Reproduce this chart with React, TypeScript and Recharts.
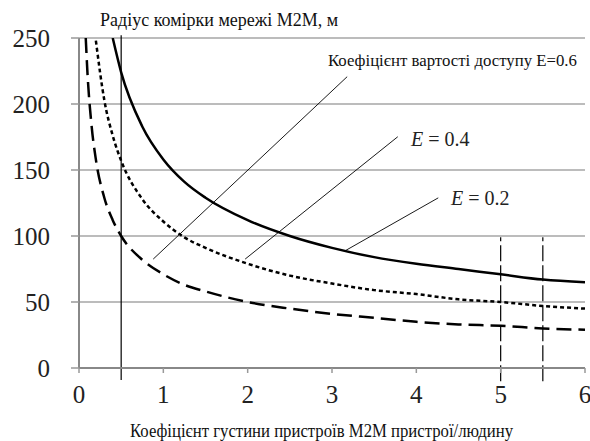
import React from "react";
import {
  LineChart,
  Line,
  XAxis,
  YAxis,
  CartesianGrid,
  ReferenceLine,
} from "recharts";

// Device density (devices per person)
const xValues = [0.08, 0.1, 0.15, 0.2, 0.3, 0.4, 0.5, 0.75, 1, 1.25, 1.5, 2, 2.5, 3, 3.5, 4, 4.5, 5, 5.5, 6];
// Cell radius, m (solid curve)
const solidSeries: (number | null)[] = [null, null, null, null, null, 250, 224, 183, 158, 141, 129, 112, 100, 91, 84, 79, 75, 71, 67, 65];
// dotted curve
const dottedSeries: (number | null)[] = [null, null, null, 248, 203, 176, 157, 128, 111, 99, 91, 79, 70, 64, 59, 56, 52, 50, 47, 45];
// dashed curve
const dashedSeries: (number | null)[] = [250, 224, 183, 158, 129, 112, 100, 82, 71, 63, 58, 50, 45, 41, 38, 35, 33, 32, 30, 29];

const xTicks = [0, 1, 2, 3, 4, 5, 6];
const yTicks = [0, 50, 100, 150, 200, 250];

const yTitle = "Радіус комірки мережі M2M, м";
const xTitle = "Коефіцієнт густини пристроїв M2M пристрої/людину";
const label06 = "Коефіцієнт вартості доступу E=0.6";
const label04 = " = 0.4";
const label02 = " = 0.2";

const data = xValues.map((x, i) => ({
  x,
  solid: solidSeries[i],
  dotted: dottedSeries[i],
  dashed: dashedSeries[i],
}));

const FONT = "Liberation Serif";

export default function App() {
  return (
    <div style={{ position: "absolute", left: 0, top: 0, width: 590, height: 441, background: "#fff", fontFamily: FONT }}>
      <LineChart
        width={590}
        height={441}
        data={data}
        margin={{ top: 38, right: 5, bottom: 43, left: 0 }}
        style={{ fontFamily: FONT }}
      >
        <CartesianGrid horizontal={true} vertical={false} stroke="#a6a6a6" strokeWidth={1.3} />
        <XAxis
          type="number"
          dataKey="x"
          domain={[0, 6]}
          ticks={xTicks}
          interval={0}
          height={30}
          tickSize={5}
          tickMargin={12}
          stroke="#888"
          strokeWidth={2}
          tick={{ fontSize: 25, fill: "#222", fontFamily: FONT }}
          tickLine={{ stroke: "#999", strokeWidth: 1.5 }}
        />
        <YAxis
          type="number"
          domain={[0, 250]}
          ticks={yTicks}
          allowDataOverflow
          width={79}
          tickSize={8}
          tickMargin={21}
          interval={0}
          stroke="#888"
          strokeWidth={2}
          tick={{ fontSize: 25, fill: "#222", fontFamily: FONT }}
          tickLine={{ stroke: "#999", strokeWidth: 1.5 }}
        />
        <ReferenceLine
          segment={[{ x: 0.5, y: -9 }, { x: 0.5, y: 252 }]}
          stroke="#000"
          strokeWidth={1.2}
          ifOverflow="visible"
        />
        <ReferenceLine
          segment={[{ x: 5, y: -10 }, { x: 5, y: 99 }]}
          stroke="#000"
          strokeWidth={1.2}
          strokeDasharray="16 4"
          ifOverflow="visible"
        />
        <ReferenceLine
          segment={[{ x: 5.5, y: -10 }, { x: 5.5, y: 99 }]}
          stroke="#000"
          strokeWidth={1.2}
          strokeDasharray="16 4"
          ifOverflow="visible"
        />
        <ReferenceLine
          segment={[{ x: 0.88, y: 82.5 }, { x: 3.18, y: 220.7 }]}
          stroke="#000"
          strokeWidth={0.9}
          ifOverflow="visible"
        />
        <ReferenceLine
          segment={[{ x: 1.97, y: 82.5 }, { x: 3.78, y: 175.2 }]}
          stroke="#000"
          strokeWidth={0.9}
          ifOverflow="visible"
        />
        <ReferenceLine
          segment={[{ x: 3.15, y: 88.6 }, { x: 4.26, y: 128.9 }]}
          stroke="#000"
          strokeWidth={0.9}
          ifOverflow="visible"
        />
        <Line
          type="monotone"
          dataKey="solid"
          stroke="#000"
          strokeWidth={2.5}
          dot={false}
          isAnimationActive={false}
        />
        <Line
          type="monotone"
          dataKey="dotted"
          stroke="#000"
          strokeWidth={2.5}
          strokeDasharray="4 3"
          dot={false}
          isAnimationActive={false}
        />
        <Line
          type="monotone"
          dataKey="dashed"
          stroke="#000"
          strokeWidth={2.5}
          strokeDasharray="15 7"
          dot={false}
          isAnimationActive={false}
        />
      </LineChart>
      <svg
        width={590}
        height={441}
        style={{ position: "absolute", left: 0, top: 0, pointerEvents: "none" }}
      >
        <text x={100} y={26} fontFamily={FONT} fontSize={18} fill="#111">{yTitle}</text>
        <text x={130} y={437} fontFamily={FONT} fontSize={18} fill="#111" textLength={383} lengthAdjust="spacingAndGlyphs">{xTitle}</text>
        <text x={328} y={66} fontFamily={FONT} fontSize={16.8} fill="#111">{label06}</text>
        <text x={411} y={146} fontFamily={FONT} fontSize={20} fill="#222">
          <tspan fontStyle="italic">E</tspan>
          {label04}
        </text>
        <text x={451} y={205} fontFamily={FONT} fontSize={20} fill="#222">
          <tspan fontStyle="italic">E</tspan>
          {label02}
        </text>
      </svg>
    </div>
  );
}
